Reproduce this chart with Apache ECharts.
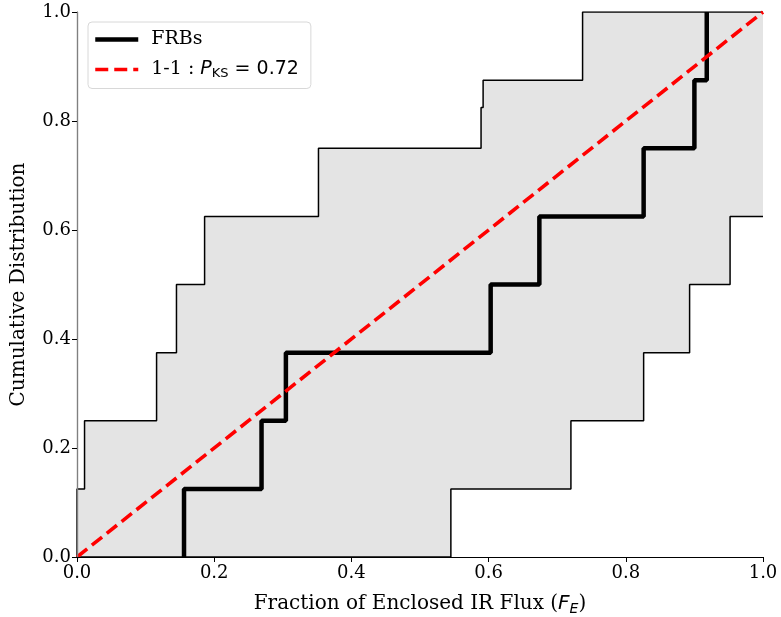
<!DOCTYPE html>
<html>
<head>
<meta charset="utf-8">
<script src="https://cdn.jsdelivr.net/npm/echarts@6/dist/echarts.min.js"></script>
<style>
  html, body { margin: 0; padding: 0; background: #fff; }
  #chart { width: 781px; height: 617px; }
</style>
</head>
<body>
<div id="chart"></div>
<script>
// FRB cumulative distribution: jump positions (each jump is 1/8)
var frbX = [0.156, 0.269, 0.3045, 0.603, 0.674, 0.826, 0.900, 0.918];
var frbY = [0.125, 0.25, 0.375, 0.5, 0.625, 0.75, 0.875, 1.0];

// upper bound of the band
var upperX = [0, 0, 0.011, 0.116, 0.145, 0.186, 0.352, 0.589, 0.592, 0.737, 1.0];
var upperY = [0, 0.125, 0.25, 0.375, 0.5, 0.625, 0.75, 0.825, 0.875, 1.0, 1.0];

// lower bound of the band
var lowerX = [0, 0.545, 0.720, 0.826, 0.893, 0.952, 1.0];
var lowerY = [0, 0.125, 0.25, 0.375, 0.5, 0.625, 0.625];

// 1-1 line
var oneX = [0, 1];
var oneY = [0, 1];

function pairs(xs, ys) {
  return xs.map(function (x, i) { return [x, ys[i]]; });
}

var font = 'DejaVu Serif';
var chart = echarts.init(document.getElementById('chart'));

var option = {
  animation: false,
  grid: { left: 77, right: 18, top: 12, bottom: 60, containLabel: false, outerBoundsMode: 'none' },
  xAxis: [{
    type: 'value', min: 0, max: 1, interval: 0.2, z: 10,
    name: 'Fraction of Enclosed IR Flux ({i|F}{s|E})',
    nameLocation: 'middle', nameGap: 35,
    nameTextStyle: {
      fontFamily: font, fontSize: 20, color: '#000',
      rich: {
        i: { fontFamily: 'DejaVu Sans', fontStyle: 'italic', fontSize: 20, color: '#000' },
        s: { fontFamily: 'DejaVu Sans', fontStyle: 'italic', fontSize: 14, color: '#000', verticalAlign: 'bottom', padding: [10, 0, 0, 0] }
      }
    },
    axisLine: { lineStyle: { color: '#000', width: 1.2 } },
    axisTick: { inside: false, length: 5, lineStyle: { color: '#000' } },
    axisLabel: { fontFamily: font, fontSize: 18, color: '#000', margin: 7,
      formatter: function (v) { return v.toFixed(1); } },
    splitLine: { show: false }
  }, {
    type: 'value', min: 0, max: 1, position: 'top', z: 10,
    axisLine: { show: true, lineStyle: { color: '#000', width: 1.2 } },
    axisTick: { show: false }, axisLabel: { show: false }, splitLine: { show: false }
  }],
  yAxis: [{
    type: 'value', min: 0, max: 1, interval: 0.2, z: 10,
    name: 'Cumulative Distribution',
    nameLocation: 'middle', nameGap: 48,
    nameTextStyle: { fontFamily: font, fontSize: 20, color: '#000' },
    axisLine: { show: true, lineStyle: { color: '#808080', width: 1.2 } },
    axisTick: { show: true, length: 5, lineStyle: { color: '#000' } },
    axisLabel: { fontFamily: font, fontSize: 18, color: '#000', margin: 6,
      formatter: function (v) { return v.toFixed(1); } },
    splitLine: { show: false }
  }, {
    type: 'value', min: 0, max: 1, position: 'right', z: 10,
    axisLine: { show: true, lineStyle: { color: '#808080', width: 1.2 } },
    axisTick: { show: false }, axisLabel: { show: false }, splitLine: { show: false }
  }],
  legend: {
    left: 88, top: 22,
    orient: 'vertical',
    backgroundColor: '#fff',
    borderColor: '#d8d8d8', borderWidth: 1, borderRadius: 4,
    padding: [8, 12, 8, 5],
    itemGap: 11, itemWidth: 43, itemHeight: 14,
    itemStyle: { opacity: 0 },
    data: [
      { name: 'FRBs', lineStyle: { width: 4.5, color: '#000' } },
      { name: 'one', lineStyle: { width: 3.6, color: '#ff0000', type: [13, 6] } }
    ],
    formatter: function (name) {
      if (name === 'one') return '1-1 : {p|P}{s|KS}{t| = 0.72}';
      return name;
    },
    textStyle: {
      fontFamily: font, fontSize: 19, color: '#000', padding: [0, 0, 0, 8],
      rich: {
        p: { fontFamily: 'DejaVu Sans', fontStyle: 'italic', fontSize: 19, color: '#000' },
        s: { fontFamily: 'DejaVu Sans', fontSize: 13, color: '#000', verticalAlign: 'bottom', padding: [9, 0, 0, 0] },
        t: { fontFamily: 'DejaVu Sans', fontSize: 19, color: '#000' }
      }
    }
  },
  series: [{
    name: 'upper', type: 'line', step: 'end', symbol: 'none', z: 1,
    data: pairs(upperX, upperY),
    lineStyle: { color: '#000', width: 1.5 },
    areaStyle: { color: '#e4e4e4', opacity: 1 }
  }, {
    name: 'lower', type: 'line', step: 'end', symbol: 'none', z: 2,
    data: pairs(lowerX, lowerY),
    lineStyle: { color: '#000', width: 1.5 },
    areaStyle: { color: '#fff', opacity: 1 }
  }, {
    name: 'FRBs', type: 'line', step: 'end', symbol: 'none', z: 4,
    data: [[frbX[0], 0]].concat(pairs(frbX, frbY)),
    lineStyle: { color: '#000', width: 4.5 },
    itemStyle: { color: '#000' }
  }, {
    name: 'one', type: 'line', symbol: 'none', z: 5,
    data: pairs(oneX, oneY),
    lineStyle: { color: '#ff0000', width: 3.6, type: [13, 6] },
    itemStyle: { color: '#ff0000' }
  }]
};

chart.setOption(option);
</script>
</body>
</html>
